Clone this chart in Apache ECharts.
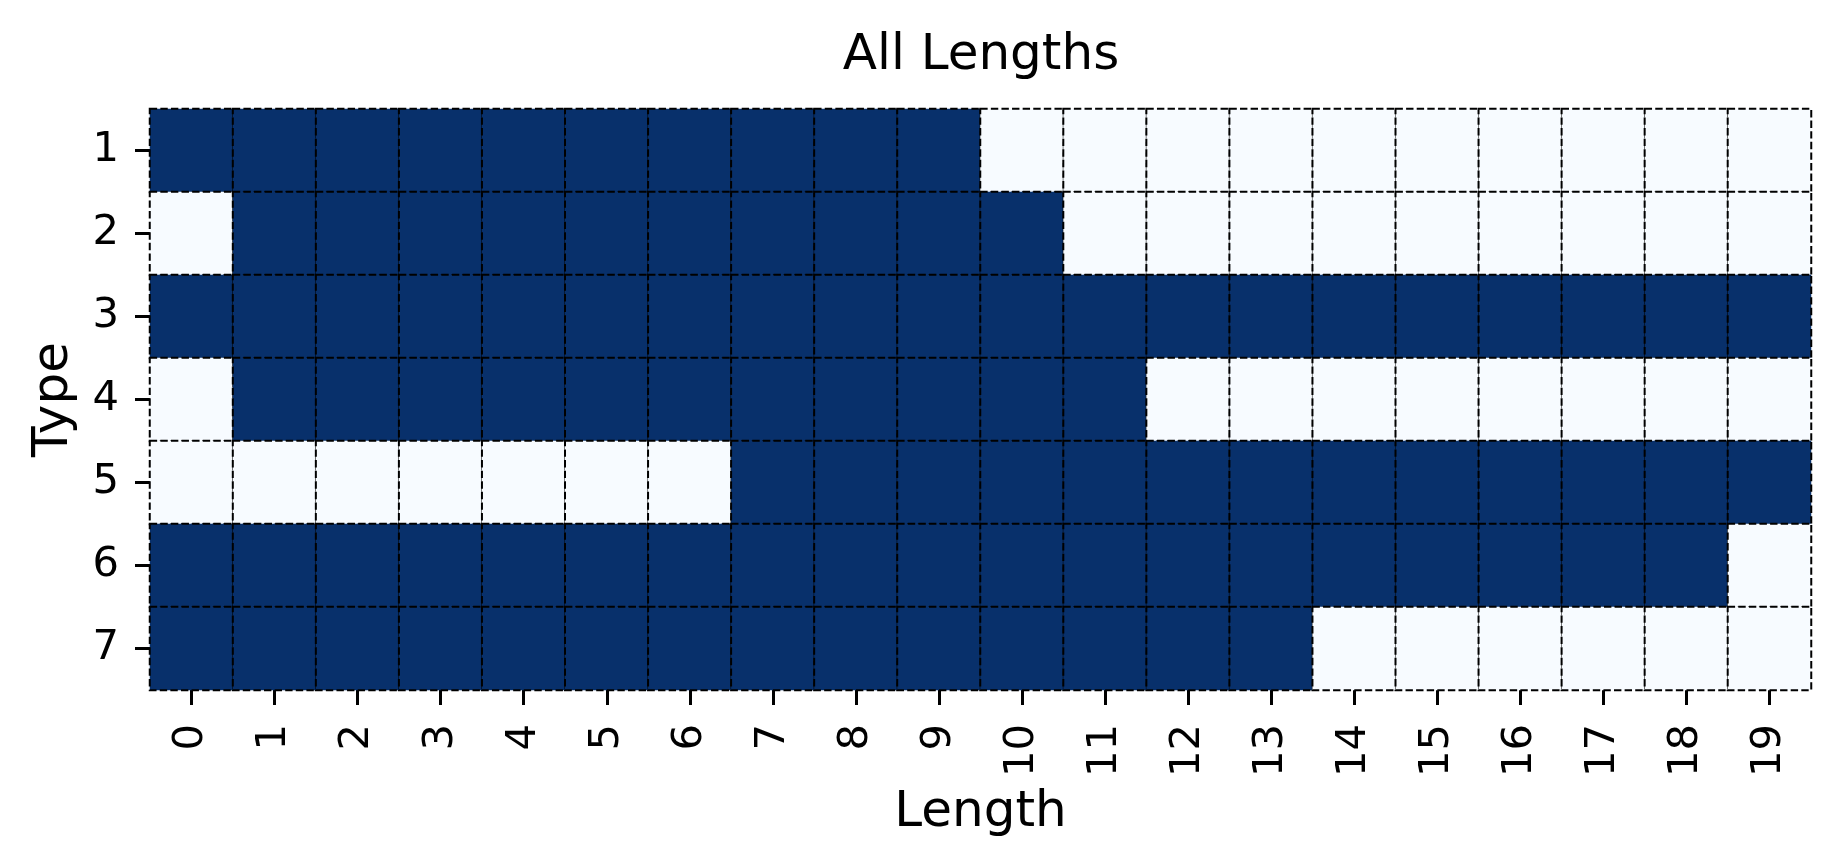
<!DOCTYPE html>
<html>
<head>
<meta charset="utf-8">
<script src="https://cdn.jsdelivr.net/npm/echarts@6/dist/echarts.min.js"></script>
<style>
  html, body { margin: 0; padding: 0; background: #fff; }
  #chart { width: 1840px; height: 867px; }
</style>
</head>
<body>
<div id="chart"></div>
<script>
const lengths = ['0','1','2','3','4','5','6','7','8','9','10','11','12','13','14','15','16','17','18','19'];
const types = ['1','2','3','4','5','6','7'];

const type1 = [1,1,1,1,1,1,1,1,1,1,0,0,0,0,0,0,0,0,0,0];
const type2 = [0,1,1,1,1,1,1,1,1,1,1,0,0,0,0,0,0,0,0,0];
const type3 = [1,1,1,1,1,1,1,1,1,1,1,1,1,1,1,1,1,1,1,1];
const type4 = [0,1,1,1,1,1,1,1,1,1,1,1,0,0,0,0,0,0,0,0];
const type5 = [0,0,0,0,0,0,0,1,1,1,1,1,1,1,1,1,1,1,1,1];
const type6 = [1,1,1,1,1,1,1,1,1,1,1,1,1,1,1,1,1,1,1,0];
const type7 = [1,1,1,1,1,1,1,1,1,1,1,1,1,1,0,0,0,0,0,0];

const rows = [type1, type2, type3, type4, type5, type6, type7];
const cells = [];
rows.forEach((row, r) => row.forEach((v, c) => cells.push([c, r, v])));

const FONT = 'DejaVu Sans';
const chart = echarts.init(document.getElementById('chart'), null, { renderer: 'canvas' });
chart.setOption({
  backgroundColor: '#ffffff',
  animation: false,
  title: {
    text: 'All Lengths',
    left: 976,
    textAlign: 'center',
    top: 26,
    textStyle: { fontFamily: FONT, fontSize: 50, fontWeight: 'normal', color: '#000' }
  },
  grid: { left: 150, top: 109, right: 29, bottom: 177, containLabel: false },
  visualMap: {
    show: false, min: 0, max: 1, dimension: 2,
    inRange: { color: ['#f7fbff', '#08306b'] }
  },
  xAxis: {
    type: 'category',
    data: lengths,
    name: 'Length',
    nameLocation: 'middle',
    nameGap: 98,
    nameTextStyle: { fontFamily: FONT, fontSize: 50, color: '#000' },
    axisLine: { show: false },
    axisTick: { show: true, alignWithLabel: true, length: 15, lineStyle: { color: '#000', width: 3 } },
    axisLabel: { rotate: 90, margin: 34, fontFamily: FONT, fontSize: 41.7, color: '#000', interval: 0 },
    splitLine: { show: false }
  },
  yAxis: {
    type: 'category',
    data: types,
    inverse: true,
    name: 'Type',
    nameLocation: 'middle',
    nameGap: 71,
    nameRotate: 90,
    nameTextStyle: { fontFamily: FONT, fontSize: 50, color: '#000' },
    axisLine: { show: false },
    axisTick: { show: true, alignWithLabel: true, length: 15, lineStyle: { color: '#000', width: 3 } },
    axisLabel: { margin: 31, fontFamily: FONT, fontSize: 41.7, color: '#000', interval: 0 },
    splitLine: { show: false }
  },
  series: [{
    type: 'heatmap',
    data: cells,
    itemStyle: { borderColor: '#000', borderWidth: 2, borderType: [7.4, 3.2] },
    emphasis: { disabled: true },
    label: { show: false }
  }]
});
</script>
</body>
</html>
